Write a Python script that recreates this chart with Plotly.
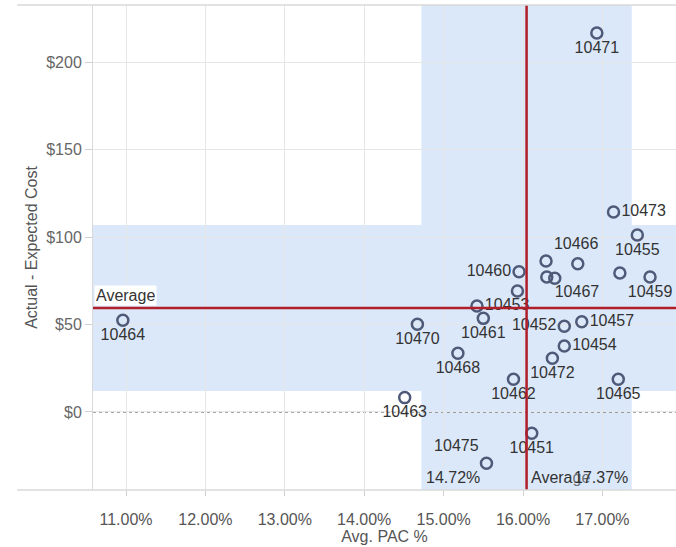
import plotly.graph_objects as go

# Order IDs (blank = point without a visible label)
order_ids = ["10471", "10473", "10455", "10459", "", "10466", "", "10467", "", "10460",
             "", "10453", "10461", "10470", "10452", "10457", "10454", "10472", "10468",
             "10462", "10465", "10463", "10451", "10475", "10464"]
avg_pac = [16.93, 17.14, 17.44, 17.60, 17.22, 16.29, 16.69, 16.30, 16.40, 15.95,
           15.93, 15.42, 15.50, 14.67, 16.52, 16.74, 16.52, 16.37, 15.18,
           15.88, 17.20, 14.51, 16.11, 15.54, 10.96]
cost_diff = [216.6, 114.3, 101.1, 77.1, 79.4, 86.3, 84.7, 77.1, 76.4, 80.2,
             69.1, 60.6, 53.5, 50.1, 49.0, 51.6, 37.7, 30.7, 33.5,
             18.7, 18.7, 8.2, -12.2, -29.3, 52.4]

# reference bands (distribution) and averages
pac_band = [14.72, 17.37]
cost_band = [12.0, 106.8]
pac_avg = 16.045
cost_avg = 59.4

# label placement per point (style only)
label_pos = ["bottom center", "middle right", "bottom center", "bottom center", "middle center",
             "top right", "middle center", "bottom right", "middle center", "middle left",
             "middle center", "middle right", "bottom center", "bottom center", "middle left",
             "middle right", "middle right", "bottom center", "bottom center",
             "bottom center", "bottom center", "bottom center", "bottom center", "top left",
             "bottom center"]

FONT = "Liberation Sans, Arial, sans-serif"
BAND = "#dbe8fa"
RED = "#b01e2a"
FS = 16

fig = go.Figure()

fig.add_trace(go.Scatter(
    x=avg_pac,
    y=cost_diff,
    mode="markers+text",
    text=order_ids,
    textposition=label_pos,
    textfont=dict(family=FONT, size=FS, color="#333333"),
    marker=dict(symbol="circle-open", size=11, color="#4e5a78", line=dict(width=2.5)),
    cliponaxis=False,
    hoverinfo="skip",
))

shapes = [
    # distribution bands
    dict(type="rect", xref="x", yref="paper", x0=pac_band[0], x1=pac_band[1], y0=0, y1=1,
         fillcolor=BAND, line=dict(width=0), layer="below"),
    dict(type="rect", xref="paper", yref="y", x0=0, x1=1, y0=cost_band[0], y1=cost_band[1],
         fillcolor=BAND, line=dict(width=0), layer="below"),
    # dotted zero line
    dict(type="line", xref="paper", yref="y", x0=0, x1=1, y0=0, y1=0,
         line=dict(color="#444444", width=1, dash="dot"), layer="below"),
    # average reference lines
    dict(type="line", xref="x", yref="paper", x0=pac_avg, x1=pac_avg, y0=0, y1=1,
         line=dict(color=RED, width=2.5), layer="above"),
    dict(type="line", xref="paper", yref="y", x0=0, x1=1, y0=cost_avg, y1=cost_avg,
         line=dict(color=RED, width=2.5), layer="above"),
    # pane borders (extend into the left margin like the original)
    dict(type="line", xref="paper", yref="paper", x0=-0.13, x1=1, y0=1, y1=1,
         line=dict(color="#d9d9d9", width=1.5), layer="above"),
    dict(type="line", xref="paper", yref="paper", x0=-0.13, x1=1, y0=0, y1=0,
         line=dict(color="#d9d9d9", width=1.5), layer="above"),
]

annotations = [
    dict(xref="paper", yref="y", x=0, y=cost_avg, xanchor="left", yanchor="bottom",
         text="Average", showarrow=False, bgcolor="white", xshift=1, yshift=2,
         font=dict(family=FONT, size=FS, color="#333333")),
    dict(xref="x", yref="paper", x=pac_band[0], y=0, xanchor="left", yanchor="bottom",
         text="14.72%", showarrow=False, bgcolor=BAND, xshift=3, yshift=2,
         font=dict(family=FONT, size=FS, color="#333333")),
    dict(xref="x", yref="paper", x=pac_avg, y=0, xanchor="left", yanchor="bottom",
         text="Average", showarrow=False, xshift=2, yshift=2,
         font=dict(family=FONT, size=FS, color="#333333")),
    dict(xref="x", yref="paper", x=pac_band[1], y=0, xanchor="right", yanchor="bottom",
         text="17.37%", showarrow=False, bgcolor="rgba(219,232,250,0.35)", xshift=-2, yshift=2,
         font=dict(family=FONT, size=FS, color="#333333")),
]

fig.update_layout(
    width=676,
    height=547,
    margin=dict(l=93, r=0, t=5, b=57),
    plot_bgcolor="white",
    paper_bgcolor="white",
    showlegend=False,
    shapes=shapes,
    annotations=annotations,
    font=dict(family=FONT),
    xaxis=dict(
        range=[10.584, 17.927],
        dtick=1,
        tick0=11,
        tickformat=".2f",
        ticksuffix="%",
        showgrid=True,
        gridcolor="#e6e6e6",
        zeroline=False,
        showline=False,
        ticks="outside",
        ticklen=5,
        tickcolor="#d0d0d0",
        ticklabelstandoff=10,
        automargin=False,
        tickfont=dict(family=FONT, size=FS, color="#555555"),
        title=dict(text="Avg. PAC %", standoff=1, font=dict(family=FONT, size=FS, color="#555555")),
    ),
    yaxis=dict(
        range=[-44.6, 232.6],
        dtick=50,
        tickprefix="$",
        tickformat="d",
        showgrid=True,
        gridcolor="#e6e6e6",
        zeroline=False,
        showline=True,
        linecolor="#d9d9d9",
        ticks="outside",
        ticklen=7,
        tickcolor="#d0d0d0",
        automargin=False,
        tickfont=dict(family=FONT, size=FS, color="#666666"),
        title=dict(text="Actual - Expected Cost", standoff=4, font=dict(family=FONT, size=FS, color="#555555")),
    ),
)

# drop the default page margin so the 676x547 figure fills the window exactly
fig.write_html(
    "out.html",
    config={"displayModeBar": False},
    post_script="document.body.style.margin='0';document.body.style.overflow='hidden';",
)
